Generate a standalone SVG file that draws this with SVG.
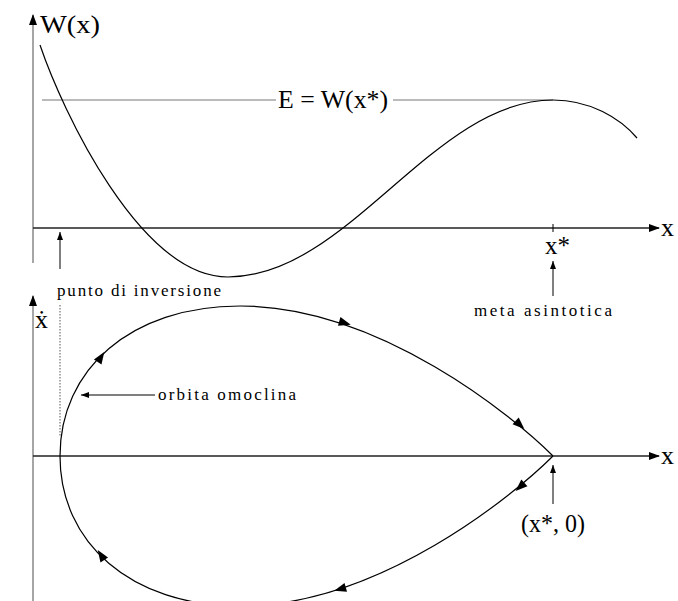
<svg xmlns="http://www.w3.org/2000/svg" width="678" height="601" viewBox="0 0 678 601">
<style>
.bg{fill:#fff}
.vax{stroke:#888;stroke-width:1.5;fill:none}
.hax{stroke:#222;stroke-width:1.5;fill:none}
.crv{stroke:#000;stroke-width:1.2;fill:none}
.eln{stroke:#777;stroke-width:1;fill:none}
.ann{stroke:#000;stroke-width:1;fill:none}
.dot{stroke:#555;stroke-width:1;stroke-dasharray:1.5 1.5;fill:none}
.lbl{font-family:"Liberation Serif","DejaVu Serif",serif;fill:#000}
.big{font-size:25px}
.sm{font-size:17px}
.head{fill:#000}
</style>
<defs>
<marker id="axarr" viewBox="0 0 11 8" refX="10" refY="4" markerWidth="11" markerHeight="8" markerUnits="userSpaceOnUse" orient="auto"><path d="M0,0 L11,4 L0,8 z" fill="#000"/></marker>
<marker id="anarr" viewBox="0 0 8 6" refX="8" refY="3" markerWidth="8" markerHeight="6" markerUnits="userSpaceOnUse" orient="auto"><path d="M0,0 L8,3 L0,6 z" fill="#000"/></marker>
<path id="oa" d="M6,0 L-6,-4.5 L-6,4.5 z"/>
</defs>
<rect class="bg" x="0" y="0" width="678" height="601"/>

<g id="top-plot">
  <g id="axes-top">
    <line class="vax" x1="33" y1="263" x2="33" y2="15" marker-end="url(#axarr)"/>
    <line class="hax" x1="33" y1="228" x2="659" y2="228" marker-end="url(#axarr)"/>
    <line class="ann" x1="553" y1="224" x2="553" y2="232"/>
    <text class="lbl big" x="40" y="33" textLength="60" lengthAdjust="spacingAndGlyphs">W(x)</text>
    <text class="lbl" x="661" y="236" font-size="26">x</text>
    <text class="lbl" x="545" y="254" font-size="25">x*</text>
  </g>
  <g id="energy-line">
    <line class="eln" x1="42" y1="100" x2="276" y2="100"/>
    <line class="eln" x1="393" y1="100" x2="553" y2="100"/>
    <text class="lbl big" x="278" y="108" textLength="110" lengthAdjust="spacingAndGlyphs">E = W(x*)</text>
  </g>
  <g id="potential-curve">
    <path class="crv" d="M40,45 C62,110 140,277 228,277 C348,277 433,100 553,100 C590,100 620,118 637,138"/>
  </g>
</g>

<g id="bottom-plot">
  <g id="axes-bottom">
    <line class="vax" x1="33" y1="601" x2="33" y2="296" marker-end="url(#axarr)"/>
    <line class="hax" x1="33" y1="456" x2="659" y2="456" marker-end="url(#axarr)"/>
    <text class="lbl" x="35" y="328" font-size="26">ẋ</text>
    <text class="lbl" x="661" y="464" font-size="26">x</text>
    <line class="dot" x1="60" y1="305" x2="60" y2="436"/>
  </g>
  <g id="orbit">
    <path class="crv" d="M60,456 C60,370 130,306 240,306 C380,306 515,418 553,456"/>
    <path class="crv" d="M60,456 C60,542 130,606 240,606 C380,606 515,494 553,456"/>
    <use href="#oa" transform="translate(101,357) rotate(-57)"/>
    <use href="#oa" transform="translate(345,323) rotate(16)"/>
    <use href="#oa" transform="translate(520,425) rotate(43)"/>
    <use href="#oa" transform="translate(520,487) rotate(137)"/>
    <use href="#oa" transform="translate(340,589) rotate(164)"/>
    <use href="#oa" transform="translate(101,555) rotate(-123)"/>
  </g>
</g>

<g id="connectors">
  <line class="ann" x1="60" y1="269" x2="60" y2="232" marker-end="url(#anarr)"/>
  <line class="ann" x1="553" y1="296" x2="553" y2="261" marker-end="url(#anarr)"/>
  <line class="ann" x1="553" y1="504" x2="553" y2="465" marker-end="url(#anarr)"/>
  <line class="ann" x1="155" y1="395" x2="81" y2="395" marker-end="url(#anarr)"/>
</g>

<g id="annotations">
  <g id="lbl-inversione"><text class="lbl sm" x="57" y="296" textLength="164" lengthAdjust="spacing">punto di inversione</text></g>
  <g id="lbl-meta"><text class="lbl sm" x="474" y="316" textLength="138" lengthAdjust="spacing">meta asintotica</text></g>
  <g id="lbl-orbita"><text class="lbl sm" x="158" y="400" textLength="138" lengthAdjust="spacing">orbita omoclina</text></g>
  <g id="lbl-punto"><text class="lbl big" x="521" y="532" textLength="64" lengthAdjust="spacingAndGlyphs">(x*, 0)</text></g>
</g>
</svg>
